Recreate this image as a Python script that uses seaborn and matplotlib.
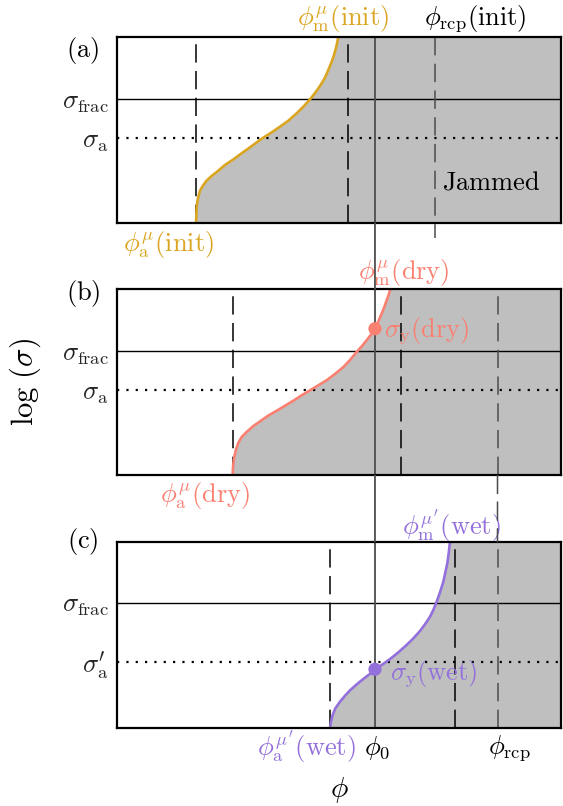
import numpy as np
import matplotlib.pyplot as plt
import seaborn as sns
from matplotlib.patches import ConnectionPatch

# curvas (phi normalizado 0-1, log sigma normalizado 0-1)
phi_init = [0.1780, 0.1787, 0.1794, 0.1824, 0.1869, 0.1944, 0.2020, 0.2132, 0.2245, 0.2432,
            0.2620, 0.2808, 0.2995, 0.3258, 0.3483, 0.3671, 0.3859, 0.4047, 0.4212, 0.4347,
            0.4467, 0.4572, 0.4677, 0.4760, 0.4835, 0.4887, 0.4940, 0.4985]
sig_init = [0.0, 0.043, 0.088, 0.133, 0.174, 0.204, 0.228, 0.253, 0.274, 0.312,
            0.342, 0.375, 0.407, 0.453, 0.487, 0.518, 0.550, 0.590, 0.629, 0.665,
            0.701, 0.737, 0.778, 0.823, 0.867, 0.903, 0.948, 1.0]

phi_dry = [0.2605, 0.2613, 0.2635, 0.2673, 0.2733, 0.2808, 0.2920, 0.3071, 0.3221, 0.3408,
           0.3596, 0.3784, 0.3971, 0.4159, 0.4347, 0.4535, 0.4722, 0.4910, 0.5098, 0.5248,
           0.5398, 0.5511, 0.5623, 0.5721, 0.5811, 0.5886, 0.5961, 0.6021, 0.6074, 0.6119, 0.6156]
sig_dry = [0.0, 0.045, 0.089, 0.134, 0.175, 0.206, 0.233, 0.265, 0.290, 0.321,
           0.347, 0.374, 0.401, 0.430, 0.457, 0.484, 0.511, 0.545, 0.582, 0.620,
           0.663, 0.693, 0.726, 0.756, 0.788, 0.828, 0.869, 0.905, 0.941, 0.971, 1.0]

phi_wet = [0.4797, 0.4820, 0.4857, 0.4917, 0.5023, 0.5135, 0.5248, 0.5398, 0.5548, 0.5683,
           0.5811, 0.5961, 0.6149, 0.6336, 0.6524, 0.6674, 0.6824, 0.6937, 0.7050, 0.7125,
           0.7200, 0.7275, 0.7350, 0.7395, 0.7440, 0.7470, 0.7500]
sig_wet = [0.0, 0.032, 0.068, 0.104, 0.140, 0.172, 0.201, 0.233, 0.262, 0.287,
           0.312, 0.337, 0.369, 0.405, 0.445, 0.480, 0.520, 0.556, 0.597, 0.633,
           0.678, 0.728, 0.785, 0.835, 0.884, 0.937, 1.0]

# lineas de referencia por panel (init, dry, wet)
phi_a = [0.178, 0.261, 0.480]
phi_m = [0.520, 0.639, 0.761]
sigma_frac = [0.666, 0.667, 0.672]
sigma_a = [0.455, 0.457, 0.355]
phi_0 = 0.581
phi_rcp_init = 0.716
phi_rcp = 0.857
sigma_y_dry = 0.788
sigma_y_wet = 0.314

colores = ['#DAA520', '#FA8072', '#9370DB']
curvas = [(phi_init, sig_init), (phi_dry, sig_dry), (phi_wet, sig_wet)]

sns.set_style("white")
plt.rcParams.update({
    'mathtext.fontset': 'cm',
    'font.family': 'serif',
    'axes.linewidth': 1.6,
    'axes.edgecolor': 'black',
})

fig = plt.figure(figsize=(5.63, 8.06), dpi=100)
izq, ancho, alto = 117 / 563, 444 / 563, 186 / 806
bases = [1 - 223 / 806, 1 - 475.3 / 806, 1 - 727.7 / 806]
axes = [fig.add_axes([izq, b, ancho, alto]) for b in bases]

fs = 19
gris_fill = '#bfbfbf'
gris_linea = '#4d4d4d'
dash_neg = (12, 5.5)

for i, ax in enumerate(axes):
    phi, sig = curvas[i]
    col = colores[i]
    ax.set_xlim(0, 1)
    ax.set_ylim(0, 1)
    ax.fill_betweenx(sig, phi, 1, color=gris_fill, lw=0, zorder=1)
    sns.lineplot(x=phi, y=sig, sort=False, ax=ax, color=col, lw=1.9, zorder=5)
    ax.axhline(sigma_frac[i], color='black', lw=1.0, zorder=3)
    ax.axhline(sigma_a[i], color='black', lw=1.6, dashes=(1, 3.2), zorder=3)
    ax.axvline(phi_a[i], color='black', lw=1.1, dashes=dash_neg, zorder=3)
    ax.axvline(phi_m[i], color='black', lw=1.1, dashes=dash_neg, zorder=3)
    ax.axvline(phi_0, color=gris_linea, lw=1.3, zorder=3)
    ax.set_xticks([])
    ax.set_yticks([sigma_frac[i], sigma_a[i]])
    lab_a = r"$\sigma_{\rm a}^{\prime}$" if i == 2 else r'$\sigma_{\rm a}$'
    ax.set_yticklabels([r'$\sigma_{\rm frac}$', lab_a])
    ax.tick_params(axis='y', length=0, pad=6, labelsize=fs)
    for s in ax.spines.values():
        s.set_linewidth(1.6)
        s.set_zorder(6)

ax_a, ax_b, ax_c = axes

# panel (a)
ax_a.plot([phi_rcp_init, phi_rcp_init], [1, -0.08], color=gris_linea, lw=1.1,
          dashes=dash_neg, clip_on=False, zorder=3)
ax_a.text(0.509, 1.10, r'$\phi_{\rm m}^{\mu}\mathrm{(init)}$', color=colores[0], fontsize=fs, ha='center', va='center')
ax_a.text(0.806, 1.10, r'$\phi_{\rm rcp}\mathrm{(init)}$', color='black', fontsize=fs, ha='center', va='center')
ax_a.text(0.117, -0.118, r'$\phi_{\rm a}^{\mu}\mathrm{(init)}$', color=colores[0], fontsize=fs, ha='center', va='center')
ax_a.text(0.842, 0.22, r'$\mathrm{Jammed}$', color='black', fontsize=fs, ha='center', va='center')
ax_a.text(-0.077, 0.925, r'$\mathrm{(a)}$', color='black', fontsize=fs, ha='center', va='center')

# panel (b)
ax_b.axvline(phi_rcp, color=gris_linea, lw=1.1, dashes=dash_neg, zorder=3)
sns.scatterplot(x=[phi_0], y=[sigma_y_dry], ax=ax_b, color=colores[1], s=90, edgecolor='none', zorder=7, clip_on=False)
ax_b.text(0.646, 1.088, r'$\phi_{\rm m}^{\mu}\mathrm{(dry)}$', color=colores[1], fontsize=fs, ha='center', va='center')
ax_b.text(0.601, 0.78, r'$\sigma_{\rm y}\mathrm{(dry)}$', color=colores[1], fontsize=fs, ha='left', va='center', zorder=8)
ax_b.text(0.198, -0.106, r'$\phi_{\rm a}^{\mu}\mathrm{(dry)}$', color=colores[1], fontsize=fs, ha='center', va='center')
ax_b.text(-0.077, 0.976, r'$\mathrm{(b)}$', color='black', fontsize=fs, ha='center', va='center')
ax_b.text(-0.207, 0.5, r'$\log\,(\sigma)$', color='black', fontsize=22, rotation=90, ha='center', va='center')

# panel (c)
ax_c.axvline(phi_rcp, color=gris_linea, lw=1.1, dashes=dash_neg, zorder=3)
sns.scatterplot(x=[phi_0], y=[sigma_y_wet], ax=ax_c, color=colores[2], s=90, edgecolor='none', zorder=7, clip_on=False)
ax_c.text(0.752, 1.089, r"$\phi_{\rm m}^{\mu'}\mathrm{(wet)}$", color=colores[2], fontsize=fs, ha='center', va='center')
ax_c.text(0.615, 0.294, r'$\sigma_{\rm y}\mathrm{(wet)}$', color=colores[2], fontsize=fs, ha='left', va='center', zorder=8)
ax_c.text(0.426, -0.104, r"$\phi_{\rm a}^{\mu'}\mathrm{(wet)}$", color=colores[2], fontsize=fs, ha='center', va='center')
ax_c.text(0.586, -0.109, r'$\phi_0$', color='black', fontsize=fs, ha='center', va='center')
ax_c.text(0.883, -0.109, r'$\phi_{\rm rcp}$', color='black', fontsize=fs, ha='center', va='center')
ax_c.text(-0.077, 1.0, r'$\mathrm{(c)}$', color='black', fontsize=fs, ha='center', va='center')
ax_c.text(0.5, -0.335, r'$\phi$', color='black', fontsize=21, ha='center', va='center')

# lineas que cruzan los huecos entre paneles
for arriba, abajo in [(ax_a, ax_b), (ax_b, ax_c)]:
    con = ConnectionPatch(xyA=(phi_0, 0), coordsA=arriba.transData,
                          xyB=(phi_0, 1), coordsB=abajo.transData,
                          color=gris_linea, lw=1.3)
    fig.add_artist(con)
con = ConnectionPatch(xyA=(phi_rcp, 0), coordsA=ax_b.transData,
                      xyB=(phi_rcp, 1), coordsB=ax_c.transData,
                      color=gris_linea, lw=1.1, linestyle=(0, dash_neg))
fig.add_artist(con)

fig.savefig("out.png", dpi=100)
